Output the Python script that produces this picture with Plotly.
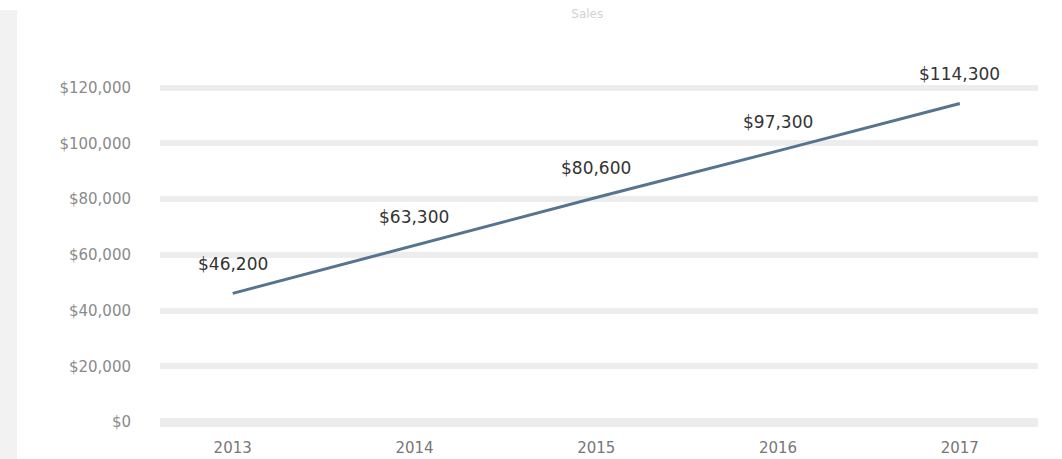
import plotly.graph_objects as go

# Yearly figures
years = [2013, 2014, 2015, 2016, 2017]
values = [46200, 63300, 80600, 97300, 114300]
value_labels = ["$46,200", "$63,300", "$80,600", "$97,300", "$114,300"]

y_ticks = [0, 20000, 40000, 60000, 80000, 100000, 120000]
y_tick_labels = ["$0", "$20,000", "$40,000", "$60,000", "$80,000", "$100,000", "$120,000"]
x_tick_labels = ["2013", "2014", "2015", "2016", "2017"]

FONT = "DejaVu Sans"

fig = go.Figure()
fig.add_trace(go.Scatter(
    x=years, y=values, mode="lines",
    line=dict(color="#56738f", width=3),
    hoverinfo="skip", showlegend=False,
))

# value labels floating above each point
for xv, yv, lab in zip(years, values, value_labels):
    fig.add_annotation(
        x=xv, y=yv, text=lab, showarrow=False, yshift=29,
        font=dict(family=FONT, size=17, color="#333333"),
    )

# pale band down the left edge
fig.add_shape(
    type="rect", xref="paper", yref="paper",
    x0=-0.1822, x1=-0.1629, y0=-0.12, y1=1.21,
    fillcolor="#f2f2f2", line=dict(width=0), layer="below",
)

fig.update_layout(
    width=1062, height=459,
    margin=dict(l=160, r=24, t=82, b=34),
    paper_bgcolor="white", plot_bgcolor="white",
    title=dict(
        text="Sales", x=0.553, xanchor="center", y=0.98, yanchor="top",
        font=dict(family=FONT, size=12, color="#d2d2d2"),
    ),
    xaxis=dict(
        range=[2012.6, 2017.43], automargin=False,
        tickvals=years, ticktext=x_tick_labels,
        showgrid=False, zeroline=False, showline=False,
        ticks="", ticklabelstandoff=12,
        tickfont=dict(family=FONT, size=15, color="#777777"),
    ),
    yaxis=dict(
        range=[-1000, 122000], automargin=False,
        tickvals=y_ticks, ticktext=y_tick_labels,
        showgrid=True, gridcolor="#ededed", gridwidth=6,
        zeroline=True, zerolinecolor="#ececec", zerolinewidth=9,
        showline=False, ticks="", ticklabelstandoff=28,
        tickfont=dict(family=FONT, size=15, color="#8a8a8a"),
    ),
)

fig.write_html("out.html")
